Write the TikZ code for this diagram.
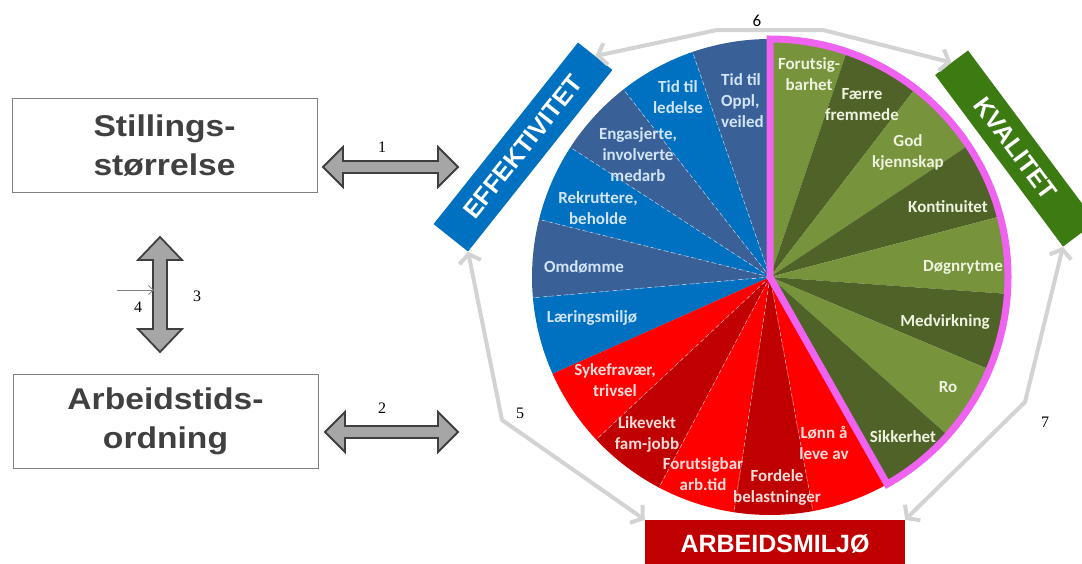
\documentclass[tikz,border=0pt]{standalone}
\usepackage{fontspec}
\setmainfont{Liberation Serif}
\newfontfamily\cbfont{Carlito}
\newfontfamily\arfont{Liberation Sans}
\newfontfamily\arwide{Liberation Sans}[FakeStretch=1.12]
\usetikzlibrary{arrows.meta,calc}
\definecolor{bluebright}{HTML}{0070C0}
\definecolor{bluedark}{HTML}{3A6098}
\definecolor{greenlight}{HTML}{77933C}
\definecolor{greendark}{HTML}{4F6228}
\definecolor{redbright}{HTML}{FF0000}
\definecolor{reddark}{HTML}{C00000}
\definecolor{pinkline}{HTML}{F062F0}
\definecolor{kvalgreen}{HTML}{3C7A12}
\definecolor{conngray}{HTML}{D3D3D3}
\definecolor{blockgray}{HTML}{A6A6A6}
\definecolor{arrowedge}{HTML}{3F3F3F}
\definecolor{boxgray}{HTML}{808080}
\definecolor{textgray}{HTML}{404040}
\definecolor{btext}{HTML}{D2E4F7}
\definecolor{gtext}{HTML}{EEF3DF}
\definecolor{rtext}{HTML}{F8DCDA}
\newcommand\blockarrowH[2]{%
  \draw[blockarrow] (#1) -- ($(#1)+(20,-20)$) -- ($(#1)+(20,-6)$) -- ($(#2)+(-20,-6)$) -- ($(#2)+(-20,-20)$) -- (#2)
   -- ($(#2)+(-20,20)$) -- ($(#2)+(-20,6)$) -- ($(#1)+(20,6)$) -- ($(#1)+(20,20)$) -- cycle;}
\newcommand\blockarrowV[2]{%
  \draw[blockarrow] (#1) -- ($(#1)+(22,23)$) -- ($(#1)+(7,23)$) -- ($(#2)+(7,-23)$) -- ($(#2)+(22,-23)$) -- (#2)
   -- ($(#2)+(-22,-23)$) -- ($(#2)+(-7,-23)$) -- ($(#1)+(-7,23)$) -- ($(#1)+(-22,23)$) -- cycle;}
\begin{document}
\begin{tikzpicture}[x=1pt,y=-1pt,
  pie/.style={shift={(770,277)}, yscale=-1},
  plabel/.style={font=\cbfont\bfseries\fontsize{17}{21}\selectfont, align=center, inner sep=0pt},
  blab/.style={plabel, text=btext},
  glab/.style={plabel, text=gtext},
  rlab/.style={plabel, text=rtext},
  bigbox/.style={draw=boxgray, line width=1pt, minimum width=305pt, minimum height=94pt, inner sep=0pt, align=center, text=textgray, font=\arwide\bfseries\fontsize{30}{39}\selectfont},
  catbox/.style={inner sep=0pt, text=white, font=\arfont\bfseries\fontsize{25}{30}\selectfont},
  conn/.style={draw=conngray, line width=4pt, line join=round, {Straight Barb[length=8pt,width=22pt]}-{Straight Barb[length=8pt,width=22pt]}},
  blockarrow/.style={fill=blockgray, draw=arrowedge, line width=1.8pt, line join=miter},
  num/.style={font=\fontsize{16}{18}\selectfont, text=black, inner sep=0pt},
  sep/.style={white, line width=0.6pt, dash pattern=on 4pt off 3pt, opacity=0.6}
]
\useasboundingbox (0,0) rectangle (1082,563);
\fill[white] (0,0) rectangle (1082,563);

% pie: blue and red slices
\begin{scope}[pie]
  \coordinate (pc) at (0,0);
  \foreach \a/\b/\c in {90/109/bluedark,109/128/bluebright,128/147/bluedark,147/166/bluebright,166/185/bluedark,185/204/bluebright,
     204/223.1/redbright,223.1/242.2/reddark,242.2/261.3/redbright,261.3/280.4/reddark,280.4/299.5/redbright}
    \fill[\c] (0,0) -- (\a:238) arc[start angle=\a, end angle=\b, radius=238] -- cycle;
  \foreach \a in {109,128,147,166,185,223.1,242.2,261.3,280.4}
    \draw[sep] (0,0) -- (\a:238);
\end{scope}

% blue labels
\node[blab, anchor=west, align=left] (l1) at (721,101) {Tid til\\Oppl,\\veiled};
\node[blab] (l2) at (678,97) {Tid til\\ledelse};
\node[blab] (l3) at (638,155) {Engasjerte,\\involverte\\medarb};
\node[blab] (l4) at (598,208) {Rekruttere,\\beholde};
\node[blab] (l5) at (584,267) {Omdømme};
\node[blab] (l6) at (592,318) {Læringsmiljø};
% red labels
\node[rlab] (l7) at (615,380) {Sykefravær,\\trivsel};
\node[rlab] (l8) at (647,434) {Likevekt\\fam-jobb};
\node[rlab] (l9) at (703,474) {Forutsigbar\\arb.tid};
\node[rlab] (l10) at (777,487) {Fordele\\belastninger};
\node[rlab] (l11) at (824,443) {Lønn å\\leve av};

% green slices
\begin{scope}[pie]
  \foreach \a/\b/\c in {90/71.19/greenlight,71.19/52.38/greendark,52.38/33.56/greenlight,33.56/14.75/greendark,
     14.75/-4.06/greenlight,-4.06/-22.88/greendark,-22.88/-41.69/greenlight,-41.69/-60.5/greendark}
    \fill[\c] (0,0) -- (\a:238) arc[start angle=\a, end angle=\b, radius=238] -- cycle;
\end{scope}

% green labels
\node[glab] (l12) at (809,74) {Forutsig-\\barhet};
\node[glab] (l13) at (862,105) {Færre\\fremmede};
\node[glab] (l14) at (908,152) {God\\kjennskap};
\node[glab] (l15) at (948,207) {Kontinuitet};
\node[glab] (l16) at (963,267) {Døgnrytme};
\node[glab] (l17) at (945,322) {Medvirkning};
\node[glab] (l18) at (948,387) {Ro};
\node[glab] (l19) at (903,437) {Sikkerhet};

% pink outline
\begin{scope}[pie]
  \draw[pinkline, line width=7pt] (0,0) -- (90:238) arc[start angle=90, end angle=-60.5, radius=238] -- cycle;
\end{scope}

% category boxes
\node[catbox, fill=bluebright, minimum width=232pt, minimum height=44pt, rotate=51.5] (eff) at (523,147) {EFFEKTIVITET};
\node[catbox, fill=kvalgreen, minimum width=214pt, minimum height=41pt, rotate=-53.3] (kval) at (1015.5,148.5) {KVALITET};
\node[catbox, fill=reddark, minimum width=260pt, minimum height=48pt] (arb) at (775,544) {ARBEIDSMILJØ};

% left boxes
\node[bigbox] (stil) at (164.5,145.5) {Stillings-\\størrelse};
\node[bigbox] (arbt) at (165.5,421.5) {Arbeidstids-\\ordning};

% gray connectors
\coordinate (b6a) at (717,30);
\coordinate (b6b) at (823,30);
\draw[conn] (eff.east) -- (b6a) -- (b6b) -- (kval.west);
\coordinate (b5) at (502,420);
\draw[conn] (eff.south west) -- (b5) -- (arb.north west);
\coordinate (b7) at (1025,402);
\draw[conn] (kval.south east) -- (b7) -- (arb.north east);

% block arrows
\coordinate (a1l) at (323,167);
\coordinate (a1r) at (458,167);
\coordinate (a2l) at (325,432);
\coordinate (a2r) at (458,432);
\coordinate (a3t) at (160,237);
\coordinate (a3b) at (160,352);
\blockarrowH{a1l}{a1r}
\blockarrowH{a2l}{a2r}
\blockarrowV{a3t}{a3b}
\coordinate (a4s) at (117,290);
\coordinate (a4e) at (154,290);
\draw[draw=boxgray, line width=0.8pt, -{Straight Barb[length=5pt,width=9pt]}] (a4s) -- (a4e);

% numbers
\node[font=\cbfont\fontsize{17}{20}\selectfont, inner sep=0pt] (n6) at (757,21) {6};
\node[num] (n1) at (382,147) {1};
\node[num] (n2) at (382,408) {2};
\node[num] (n3) at (197,296) {3};
\node[num] (n4) at (138,307) {4};
\node[num] (n5) at (520,413) {5};
\node[num] (n7) at (1045,422) {7};
\end{tikzpicture}
\end{document}
